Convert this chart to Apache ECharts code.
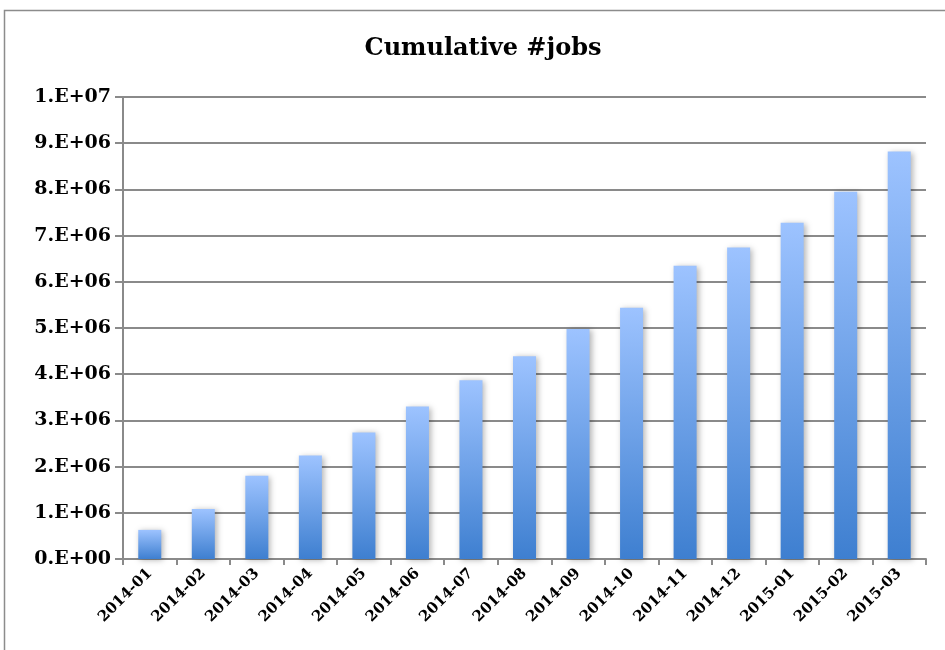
<!DOCTYPE html>
<html>
<head>
<meta charset="utf-8">
<script src="https://cdn.jsdelivr.net/npm/echarts@6/dist/echarts.min.js"></script>
<style>
html,body{margin:0;padding:0;background:#fff;}
#chart{width:945px;height:650px;}
</style>
</head>
<body>
<div id="chart"></div>
<script>
const categories = ['2014-01','2014-02','2014-03','2014-04','2014-05','2014-06','2014-07','2014-08','2014-09','2014-10','2014-11','2014-12','2015-01','2015-02','2015-03'];
const cumulativeJobs = [630000, 1080000, 1800000, 2240000, 2740000, 3300000, 3870000, 4390000, 4980000, 5440000, 6350000, 6740000, 7280000, 7950000, 8820000];
const yTickLabels = ['0.E+00','1.E+06','2.E+06','3.E+06','4.E+06','5.E+06','6.E+06','7.E+06','8.E+06','9.E+06','1.E+07'];

const chart = echarts.init(document.getElementById('chart'));
const fontFam = '"DejaVu Serif", serif';
chart.setOption({
  animation: false,
  backgroundColor: '#ffffff',
  graphic: [{
    type: 'rect',
    shape: {x: 4.5, y: 10.5, width: 1000, height: 700},
    style: {fill: 'none', stroke: '#8c8c8c', lineWidth: 1.5},
    silent: true, z: -1
  }],
  title: {
    text: 'Cumulative #jobs',
    left: 478, top: 32, textAlign: 'center',
    textStyle: {fontFamily: fontFam, fontWeight: 'bold', fontSize: 24, color: '#000'}
  },
  grid: {left: 123, right: 19, top: 97, bottom: 91, containLabel: false},
  xAxis: {
    type: 'category',
    data: categories,
    axisLine: {lineStyle: {color: '#8a8a8a', width: 2}},
    axisTick: {show: true, alignWithLabel: false, length: 6, lineStyle: {color: '#8a8a8a', width: 2}},
    axisLabel: {rotate: 45, interval: 0, margin: 12, fontFamily: fontFam, fontWeight: 'bold', fontSize: 15, color: '#000'}
  },
  yAxis: {
    type: 'value',
    min: 0, max: 10000000, interval: 1000000,
    axisLine: {show: true, lineStyle: {color: '#8a8a8a', width: 2}},
    axisTick: {show: true, inside: false, length: 8, lineStyle: {color: '#8a8a8a', width: 2}},
    splitLine: {show: true, lineStyle: {color: '#8a8a8a', width: 2}},
    axisLabel: {
      margin: 12, fontFamily: fontFam, fontWeight: 'bold', fontSize: 19, color: '#000',
      formatter: function (v) { return yTickLabels[Math.round(v / 1000000)]; }
    }
  },
  series: [{
    type: 'bar',
    data: cumulativeJobs,
    barWidth: '43%',
    itemStyle: {
      color: new echarts.graphic.LinearGradient(0, 0, 0, 1, [
        {offset: 0, color: '#9dc3ff'},
        {offset: 1, color: '#3e7fd0'}
      ]),
      shadowBlur: 6,
      shadowColor: 'rgba(0,0,0,0.3)',
      shadowOffsetX: 2,
      shadowOffsetY: 1
    }
  }]
});
</script>
</body>
</html>
